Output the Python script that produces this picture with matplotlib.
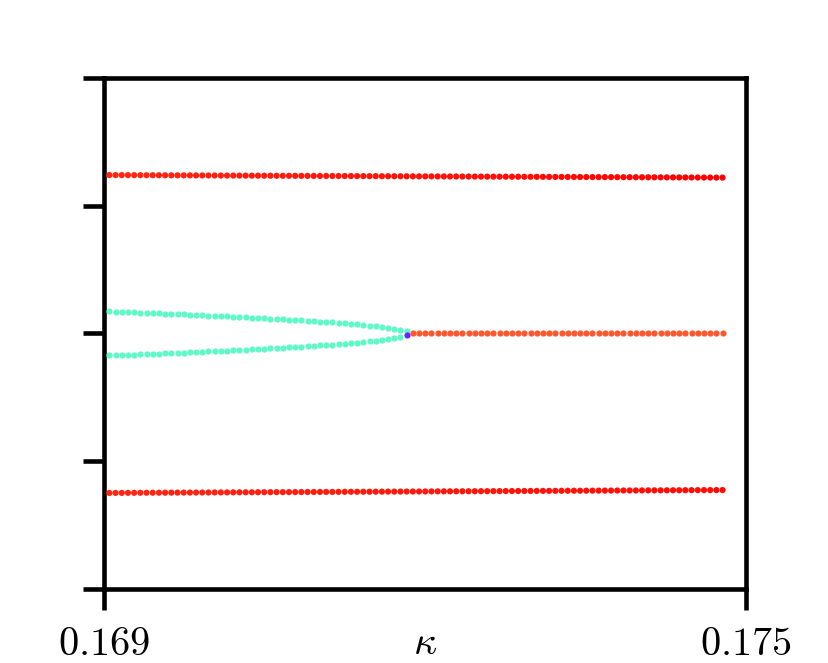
import matplotlib
matplotlib.use("Agg")
import matplotlib.pyplot as plt
import numpy as np

plt.rcParams["mathtext.fontset"] = "cm"

# parameter sweep (100 samples)
kappa = np.linspace(0.16905, 0.17478, 100)
N_SPLIT = 49  # first 49 samples belong to the split (cyan) branches

# outer branches
upper_outer = [
    0.6200, 0.6199, 0.6198, 0.6197, 0.6196, 0.6195, 0.6194, 0.6193, 0.6192, 0.6191,
    0.6190, 0.6189, 0.6188, 0.6187, 0.6186, 0.6185, 0.6184, 0.6183, 0.6182, 0.6181,
    0.6180, 0.6179, 0.6178, 0.6177, 0.6176, 0.6175, 0.6174, 0.6173, 0.6172, 0.6171,
    0.6170, 0.6169, 0.6168, 0.6167, 0.6166, 0.6165, 0.6164, 0.6163, 0.6162, 0.6161,
    0.6160, 0.6159, 0.6158, 0.6157, 0.6156, 0.6155, 0.6154, 0.6153, 0.6152, 0.6151,
    0.6150, 0.6149, 0.6148, 0.6147, 0.6146, 0.6145, 0.6144, 0.6143, 0.6142, 0.6141,
    0.6140, 0.6139, 0.6138, 0.6137, 0.6136, 0.6135, 0.6134, 0.6133, 0.6132, 0.6131,
    0.6130, 0.6129, 0.6128, 0.6127, 0.6126, 0.6125, 0.6124, 0.6123, 0.6122, 0.6121,
    0.6120, 0.6119, 0.6118, 0.6117, 0.6116, 0.6115, 0.6114, 0.6113, 0.6112, 0.6111,
    0.6110, 0.6109, 0.6108, 0.6107, 0.6106, 0.6105, 0.6104, 0.6103, 0.6102, 0.6101,
]
lower_outer = [
    -0.6240, -0.6239, -0.6238, -0.6236, -0.6235, -0.6234, -0.6233, -0.6232, -0.6231, -0.6230,
    -0.6228, -0.6227, -0.6226, -0.6225, -0.6224, -0.6223, -0.6222, -0.6220, -0.6219, -0.6218,
    -0.6217, -0.6216, -0.6215, -0.6214, -0.6212, -0.6211, -0.6210, -0.6209, -0.6208, -0.6207,
    -0.6206, -0.6204, -0.6203, -0.6202, -0.6201, -0.6200, -0.6199, -0.6198, -0.6196, -0.6195,
    -0.6194, -0.6193, -0.6192, -0.6191, -0.6190, -0.6188, -0.6187, -0.6186, -0.6185, -0.6184,
    -0.6183, -0.6182, -0.6180, -0.6179, -0.6178, -0.6177, -0.6176, -0.6175, -0.6174, -0.6172,
    -0.6171, -0.6170, -0.6169, -0.6168, -0.6167, -0.6166, -0.6164, -0.6163, -0.6162, -0.6161,
    -0.6160, -0.6159, -0.6158, -0.6156, -0.6155, -0.6154, -0.6153, -0.6152, -0.6151, -0.6150,
    -0.6148, -0.6147, -0.6146, -0.6145, -0.6144, -0.6143, -0.6142, -0.6140, -0.6139, -0.6138,
    -0.6137, -0.6136, -0.6135, -0.6134, -0.6132, -0.6131, -0.6130, -0.6129, -0.6128, -0.6127,
]

# pitchfork: two cyan branches that merge at the bifurcation point
split_upper = [
    0.0861, 0.0852, 0.0843, 0.0834, 0.0824, 0.0815, 0.0805, 0.0796, 0.0786, 0.0776,
    0.0766, 0.0756, 0.0746, 0.0735, 0.0725, 0.0714, 0.0703, 0.0692, 0.0681, 0.0670,
    0.0658, 0.0646, 0.0634, 0.0622, 0.0609, 0.0596, 0.0583, 0.0570, 0.0556, 0.0542,
    0.0528, 0.0513, 0.0498, 0.0482, 0.0466, 0.0449, 0.0431, 0.0413, 0.0394, 0.0374,
    0.0353, 0.0330, 0.0306, 0.0279, 0.0250, 0.0220, 0.0186, 0.0150, 0.0110,
]
split_lower = [
    -0.0861, -0.0852, -0.0843, -0.0834, -0.0824, -0.0815, -0.0805, -0.0796, -0.0786, -0.0776,
    -0.0766, -0.0756, -0.0746, -0.0735, -0.0725, -0.0714, -0.0703, -0.0692, -0.0681, -0.0670,
    -0.0658, -0.0646, -0.0634, -0.0622, -0.0609, -0.0596, -0.0583, -0.0570, -0.0556, -0.0542,
    -0.0528, -0.0513, -0.0498, -0.0482, -0.0466, -0.0449, -0.0431, -0.0413, -0.0394, -0.0374,
    -0.0353, -0.0330, -0.0306, -0.0279, -0.0250, -0.0220, -0.0186, -0.0150,
]
bif_point = [-0.0050]
middle_after = [0.0] * 51

cmap = plt.get_cmap("rainbow")
S = 20

fig = plt.figure(figsize=(8.29, 6.63), dpi=100)
ax = fig.add_axes([0.1255, 0.1116, 0.7745, 0.7708])

n = len(kappa)
ax.scatter(kappa, upper_outer, s=S, lw=0,
           c=cmap(np.linspace(0.95, 1.0, n)), zorder=3)
ax.scatter(kappa, lower_outer, s=S, lw=0,
           c=cmap(np.linspace(0.95, 0.985, n)), zorder=3)
ax.scatter(kappa[:N_SPLIT], split_upper, s=S, lw=0, color=cmap(0.43), zorder=3)
ax.scatter(kappa[:N_SPLIT - 1], split_lower, s=S, lw=0, color=cmap(0.43), zorder=3)
ax.scatter(kappa[N_SPLIT - 1:N_SPLIT], bif_point, s=S, lw=0, color=cmap(0.05), zorder=4)
ax.scatter(kappa[N_SPLIT:], middle_after, s=S, lw=0, color=cmap(0.89), zorder=3)

ax.set_xlim(0.169, 0.175)
ax.set_ylim(-1, 1)
ax.set_xticks([0.169, 0.175], labels=[r"$0.169$", r"$0.175$"])
ax.set_yticks([-1, -0.5, 0, 0.5, 1], labels=[])

for sp in ax.spines.values():
    sp.set_linewidth(3.3)
ax.tick_params(axis="both", direction="out", length=15, width=3.3,
               labelsize=29, pad=10)
ax.tick_params(axis="x", top=False)

ax.set_xlabel(r"$\kappa$", fontsize=29, va="baseline")
ax.xaxis.set_label_coords(0.5, -0.128)

fig.savefig("out.png", dpi=100)
